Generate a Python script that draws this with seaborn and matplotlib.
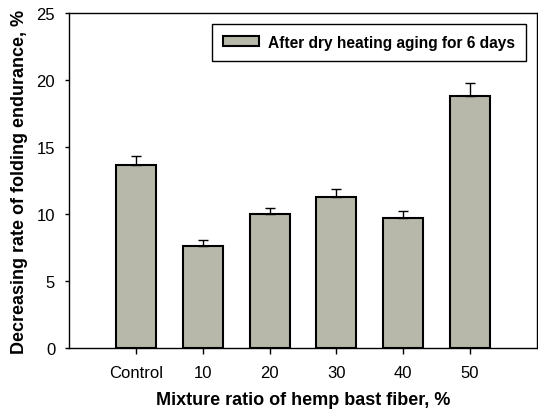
import matplotlib
matplotlib.use("Agg")
import matplotlib.pyplot as plt
import seaborn as sns
import pandas as pd

categories = ["Control", "10", "20", "30", "40", "50"]
values = [13.63, 7.61, 9.98, 11.27, 9.73, 18.81]
errors = [0.70, 0.43, 0.50, 0.57, 0.52, 0.97]
series_label = "After dry heating aging for 6 days"

df = pd.DataFrame({"ratio": categories, "rate": values})

sns.set_style("ticks")
plt.rcParams["font.family"] = ["Liberation Sans", "DejaVu Sans"]
plt.rcParams["text.color"] = "black"
plt.rcParams["axes.labelcolor"] = "black"
plt.rcParams["xtick.color"] = "black"
plt.rcParams["ytick.color"] = "black"

fig = plt.figure(figsize=(5.38, 4.10), dpi=100)
ax = fig.add_axes([0.1283, 0.1488, 0.8697, 0.8171])

sns.barplot(data=df, x="ratio", y="rate", color="#B8B8AA", saturation=1,
            width=0.6, edgecolor="black", linewidth=1.5, label=series_label,
            errorbar=None, ax=ax)
ax.errorbar(range(len(categories)), values, yerr=[[0] * len(errors), errors],
            fmt="none", ecolor="black", elinewidth=1, capsize=3.5, capthick=1)

ax.set_xlim(-1, len(categories))
ax.set_ylim(0, 25)
ax.set_yticks([0, 5, 10, 15, 20, 25])
ax.set_xlabel("Mixture ratio of hemp bast fiber, %", fontsize=13,
              fontweight="bold", labelpad=8)
ax.set_ylabel("Decreasing rate of folding endurance, %", fontsize=13,
              fontweight="bold", labelpad=6)
ax.tick_params(axis="both", labelsize=12, direction="out", width=1)
ax.tick_params(axis="x", length=4.5, pad=8)
ax.tick_params(axis="y", length=3, pad=7)
for s in ax.spines.values():
    s.set_visible(True)
    s.set_color("black")
    s.set_linewidth(1)

leg = ax.legend(loc="upper right", fancybox=False, edgecolor="black",
                framealpha=1, handlelength=2.3, handleheight=0.6,
                handletextpad=0.6, borderaxespad=0.7, borderpad=0.7,
                prop={"weight": "bold", "size": 11.2})
leg.get_frame().set_linewidth(1)

fig.savefig("out.png", dpi=100)
